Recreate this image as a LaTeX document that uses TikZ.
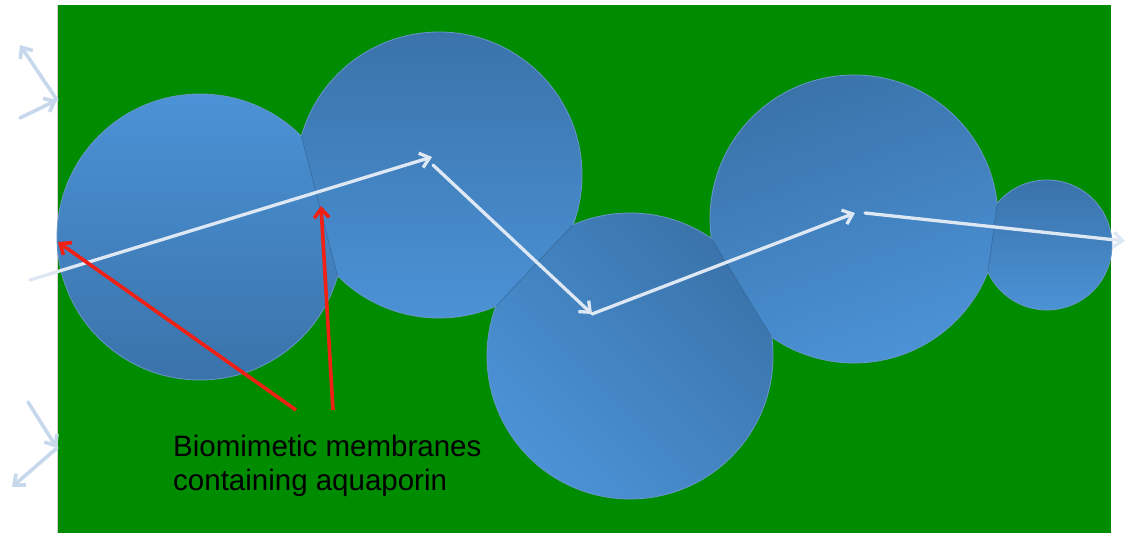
\documentclass[tikz,border=0pt]{standalone}
\usepackage{fontspec}
\setmainfont{Liberation Sans}
\usetikzlibrary{arrows.meta}
\definecolor{bggreen}{RGB}{0,140,0}
\definecolor{blueL}{RGB}{75,146,214}
\definecolor{blueD}{RGB}{58,115,170}
\definecolor{rayw}{RGB}{222,232,244}
\definecolor{rayred}{RGB}{240,32,20}
\definecolor{raypale}{RGB}{200,216,236}
\definecolor{cellrim}{RGB}{105,150,200}
\begin{document}
\begin{tikzpicture}[x=1pt,y=-1pt,
  cell/.style={draw=cellrim, line width=0.8pt},
  seam/.style={draw=blueD!75!black, line width=0.7pt, opacity=0.5},
  tipbarb/.style={-{Straight Barb[length=9pt,width=15pt]}},
  ray/.style={draw=rayw, line width=3.3pt, line cap=round, tipbarb},
  redray/.style={draw=rayred, line width=3.6pt, tipbarb},
  paleray/.style={draw=raypale, line width=3.6pt, line cap=round, tipbarb},
  txt/.style={font=\fontsize{29.5}{34}\selectfont, text=black, inner sep=0pt, anchor=base west}
]
\useasboundingbox (0,0) rectangle (1126,533);
\fill[bggreen] (57,5) rectangle (1111,533);
\draw[gray!35, line width=0.8pt] (57,5) -- (57,533);

% cell 1
\path[cell, top color=blueL, bottom color=blueD] (200,237) circle[radius=143];
% cell 2
\begin{scope}
  \clip (229,-143.5) -- (410,555.5) -- (1087.6,379.7) -- (906.6,-319.3) -- cycle;
  \path[cell, top color=blueD, bottom color=blueL] (439,175) circle[radius=143];
\end{scope}
\draw[seam] (301.4,136.1) -- (337.6,275.9);
% cell 3
\begin{scope}
  \clip (342,469) -- (727,62) -- (1235,543.6) -- (850,950.6) -- cycle;
  \path[cell, top color=blueD, bottom color=blueL, shading angle=-45] (630,356) circle[radius=143];
\end{scope}
\draw[seam] (496,306.2) -- (573,224.8);
% cell 4
\begin{scope}
  \clip (590.5,40.8) -- (892.5,534.8) -- (1489.7,169.5) -- (1187.7,-324.5) -- cycle;
  \path[cell, top color=blueD, bottom color=blueL, shading angle=20] (854,219) circle[radius=144];
\end{scope}
\draw[seam] (711.3,238.4) -- (771.7,337.2);
% cell 5
\begin{scope}
  \clip (960.4,477.1) -- (1024.8,-1.7) -- (1322.2,38.3) -- (1257.8,517.1) -- cycle;
  \path[cell, top color=blueD, bottom color=blueL] (1047,245) circle[radius=65];
\end{scope}
\draw[seam] (988,271.9) -- (997.2,203.5);

% water path
\coordinate (r0) at (30,280);
\coordinate (r1) at (432,157);
\coordinate (r1b) at (433,165);
\coordinate (r2) at (592,314);
\coordinate (r3) at (855,213);
\coordinate (r3b) at (865,213);
\coordinate (r4) at (1125,241);
\draw[ray] (r0) -- (r1);
\draw[ray] (r1b) -- (r2);
\draw[ray] (r2) -- (r3);
\draw[ray] (r3b) -- (r4);

% left edge rays
\coordinate (m1) at (57,100);
\coordinate (p1) at (20,45);
\coordinate (p2) at (20,118);
\coordinate (m2) at (57,448);
\coordinate (p3) at (28,402);
\coordinate (p4) at (12,487);
\draw[paleray] (m1) -- (p1);
\draw[paleray] (p2) -- (m1);
\draw[paleray] (p3) -- (m2);
\draw[paleray] (m2) -- (p4);

% label and pointers
\node[txt] (lab1) at (173,456) {Biomimetic membranes};
\node[txt] (lab2) at (173,490) {containing aquaporin};
\coordinate (t1) at (296,410);
\coordinate (h1) at (58,242);
\coordinate (t2) at (333,410);
\coordinate (h2) at (321,206);
\draw[redray] (t1) -- (h1);
\draw[redray] (t2) -- (h2);
\end{tikzpicture}
\end{document}
